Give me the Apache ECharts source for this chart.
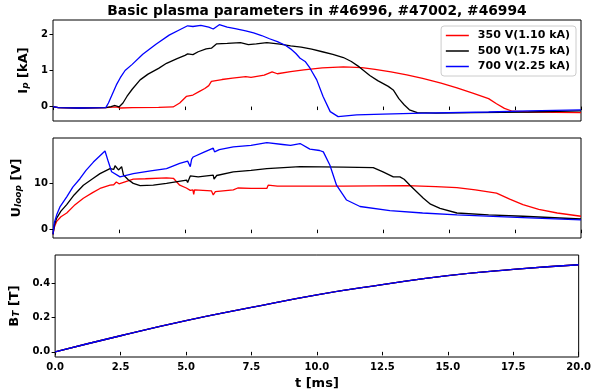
<!DOCTYPE html>
<html><head><meta charset="utf-8">
<script src="https://cdn.jsdelivr.net/npm/echarts@6/dist/echarts.min.js"></script>
<style>html,body{margin:0;padding:0;background:#fff}#c{width:594px;height:391px}</style>
</head><body><div id="c"></div>
<script>
// ---- data ----
const seriesNames = ['350 V(1.10 kA)', '500 V(1.75 kA)', '700 V(2.25 kA)'];
const seriesColors = ['#ff0000', '#000000', '#0000ff'];
const xTicks = [0, 2.5, 5, 7.5, 10, 12.5, 15, 17.5, 20];

// Ip [kA]
const ipRedT = [0,0.2,1.0,2.0,2.4,2.55,3.0,4.0,4.55,4.8,5.05,5.3,5.55,5.75,5.9,6.0,6.4,6.8,7.3,7.5,8.0,8.3,8.5,9.0,9.5,10.2,11.0,11.7,12.2,12.8,13.4,14.0,14.7,15.3,15.9,16.5,16.8,17.1,17.4,18,19,20];
const ipRedV = [0,-0.03,-0.04,-0.03,-0.01,-0.04,-0.03,-0.02,-0.01,0.1,0.28,0.32,0.42,0.5,0.58,0.7,0.75,0.79,0.83,0.81,0.87,0.96,0.91,0.97,1.02,1.07,1.1,1.08,1.03,0.96,0.88,0.78,0.65,0.52,0.37,0.22,0.08,-0.05,-0.13,-0.15,-0.16,-0.17];
const ipBlackT = [0,0.2,1,2,2.2,2.35,2.5,2.65,2.8,3.0,3.3,3.6,4.0,4.3,4.7,5.0,5.1,5.3,5.5,5.8,6.0,6.2,6.6,7.1,7.4,7.7,8.1,8.6,9.0,9.4,9.8,10.2,10.6,11.0,11.3,11.6,12.0,12.3,12.7,12.9,13.1,13.3,13.5,13.8,14.5,16,18,20];
const ipBlackV = [0,-0.03,-0.04,-0.03,0.0,0.03,-0.01,0.1,0.28,0.48,0.74,0.9,1.06,1.2,1.33,1.42,1.46,1.44,1.52,1.6,1.62,1.74,1.75,1.77,1.72,1.74,1.77,1.73,1.68,1.65,1.59,1.52,1.45,1.36,1.25,1.1,0.86,0.72,0.56,0.45,0.22,0.05,-0.09,-0.17,-0.18,-0.17,-0.15,-0.12];
const ipBlueT = [0,0.2,1,2.0,2.1,2.25,2.4,2.55,2.73,3.0,3.4,3.9,4.4,4.8,5.1,5.3,5.6,5.9,6.07,6.3,6.6,6.9,7.3,7.6,7.9,8.2,8.5,8.8,9.0,9.2,9.36,9.55,9.73,9.99,10.23,10.5,10.8,11.2,11.5,12.5,14,16.5,18,20];
const ipBlueV = [0,-0.03,-0.04,-0.03,0.1,0.35,0.6,0.8,1.0,1.17,1.45,1.73,1.98,2.13,2.24,2.22,2.25,2.2,2.15,2.27,2.2,2.16,2.1,2.04,1.97,1.88,1.8,1.7,1.6,1.47,1.34,1.25,1.07,0.74,0.28,-0.14,-0.28,-0.25,-0.23,-0.21,-0.18,-0.15,-0.12,-0.09];

// Uloop [V]
const uRedT = [0,0.05,0.14,0.3,0.52,0.8,1.15,1.5,1.78,2.16,2.3,2.4,2.5,3.04,3.5,4.3,4.56,4.8,5.05,5.2,5.3,5.33,5.36,6.0,6.07,6.15,6.83,7.0,7.5,8.1,8.15,8.5,9.36,11,13.4,14.5,15.3,16.0,16.8,17.3,17.8,18.4,19.1,20];
const uRedV = [-1,0.5,1.8,2.8,3.6,5.2,6.8,8.0,8.9,9.6,9.7,10.3,9.9,10.9,11.0,11.2,11.1,9.6,9.0,8.5,8.6,7.6,8.6,8.4,7.5,8.2,8.6,9.0,8.9,8.9,9.6,9.4,9.4,9.4,9.5,9.3,9.1,8.6,7.9,6.6,5.4,4.4,3.6,2.9];
const uBlackT = [0,0.05,0.14,0.3,0.52,0.8,1.15,1.5,1.78,2.16,2.3,2.35,2.48,2.6,2.67,2.85,3.04,3.3,3.8,4.3,5.06,5.1,5.2,5.5,6.07,6.1,6.2,6.83,7.5,8.1,9.36,11,12.13,12.5,12.89,13.14,13.3,13.52,14.03,14.3,14.66,15.3,16.5,17.8,20];
const uBlackV = [-1,1,2.5,4,5.4,7.5,9.6,11,12.1,13.2,13.0,13.8,12.9,13.6,11.8,10.8,10.0,9.5,9.6,10.0,10.7,10.2,11.6,11.4,11.8,10.9,11.7,12.5,12.8,13.2,13.6,13.5,13.4,12.5,11.4,11.4,10.9,9.6,6.8,5.5,4.6,3.6,3.2,2.9,2.3];
const uBlueT = [0,0.05,0.14,0.27,0.52,0.75,1.02,1.25,1.53,1.75,1.97,2.1,2.22,2.54,3.04,3.7,4.3,4.8,5.1,5.2,5.25,5.31,5.7,6.07,6.12,6.3,6.83,7.5,8.1,8.7,9.0,9.36,9.73,10.1,10.24,10.49,10.74,11.12,11.63,12.76,14,15.3,17.8,20];
const uBlueV = [-1,1.5,3.2,5,7.1,9.2,11,12.8,14.6,15.8,17,14.6,12.5,11.4,12.1,12.7,13.2,14.3,14.8,13.6,15.2,15.7,16.7,17.6,16.8,17.3,17.9,18.2,18.8,18.4,18.2,18.6,17.4,17.1,16.8,13.9,9.6,6.4,5.0,4.1,3.6,3.2,2.6,2.1];

// BT [T]
const btT = [0,2.5,5,7.5,10,12.5,15,17.5,20];
const btRedV = [0,0.094,0.182,0.259,0.333,0.392,0.445,0.481,0.508];
const btBlackV = [0,0.094,0.182,0.259,0.333,0.392,0.445,0.481,0.508];
const btBlueV = [0,0.094,0.182,0.259,0.333,0.392,0.445,0.481,0.508];

const ipTicks = [0, 1, 2];
const uTicks = [0, 10];
const btTicks = [0, 0.2, 0.4];

// ---- chart ----
const zip = (t, v) => t.map((x, i) => [x, v[i]]);
const FONT = 'DejaVu Sans';
const chart = echarts.init(document.getElementById('c'), null, {renderer: 'canvas'});

const grids = [
  {left: 53, right: 13, top: 20, height: 101},
  {left: 53, right: 13, top: 138, height: 100},
  {left: 53, right: 13, top: 255, height: 115}
].map(g => Object.assign(g, {show: true, borderColor: '#000', borderWidth: 1, backgroundColor: 'transparent'}));

function xAx(i, showLabel) {
  return {
    type: 'value', gridIndex: i, min: 0, max: 20,
    axisLine: {show: false},
    axisTick: {show: true, inside: false, length: 3.5, customValues: xTicks, lineStyle: {color: '#000'}},
    axisLabel: {show: showLabel, customValues: xTicks, color: '#000', fontFamily: FONT, fontWeight: 'bold', fontSize: 10,
      margin: 5, formatter: v => v.toFixed(1)},
    splitLine: {show: false},
    name: showLabel ? 't [ms]' : '', nameLocation: 'middle', nameGap: 20,
    nameTextStyle: {color: '#000', fontFamily: FONT, fontWeight: 'bold', fontSize: 13}
  };
}
const rich = {
  a: {fontFamily: FONT, fontWeight: 'bold', fontSize: 13, color: '#000'},
  b: {fontFamily: FONT, fontWeight: 'bold', fontStyle: 'italic', fontSize: 9, color: '#000', padding: [5, 0, 0, 0]}
};
function yAx(i, min, max, ticks, fmt, name, gap) {
  return {
    type: 'value', gridIndex: i, min: min, max: max,
    axisLine: {show: false},
    axisTick: {show: true, inside: false, length: 3.5, customValues: ticks, lineStyle: {color: '#000'}},
    axisLabel: {customValues: ticks, color: '#000', fontFamily: FONT, fontWeight: 'bold', fontSize: 10, margin: 5, formatter: fmt},
    splitLine: {show: false},
    name: name, nameLocation: 'middle', nameRotate: 90, nameGap: gap,
    nameTextStyle: {rich: rich}
  };
}
function line(name, color, xi, data, smooth) {
  return {name: name, type: 'line', xAxisIndex: xi, yAxisIndex: xi, data: data, symbol: 'none',
    smooth: !!smooth, lineStyle: {color: color, width: 1.3}, itemStyle: {color: color}, animation: false, z: 2};
}

const series = [
  line(seriesNames[0], seriesColors[0], 0, zip(ipRedT, ipRedV)),
  line(seriesNames[1], seriesColors[1], 0, zip(ipBlackT, ipBlackV)),
  line(seriesNames[2], seriesColors[2], 0, zip(ipBlueT, ipBlueV)),
  line(seriesNames[0], seriesColors[0], 1, zip(uRedT, uRedV)),
  line(seriesNames[1], seriesColors[1], 1, zip(uBlackT, uBlackV)),
  line(seriesNames[2], seriesColors[2], 1, zip(uBlueT, uBlueV)),
  line(seriesNames[0], seriesColors[0], 2, zip(btT, btRedV), true),
  line(seriesNames[1], seriesColors[1], 2, zip(btT, btBlackV), true),
  line(seriesNames[2], seriesColors[2], 2, zip(btT, btBlueV), true)
];

chart.setOption({
  backgroundColor: '#fff',
  animation: false,
  graphic: [{type: 'text', x: 317, y: 11, silent: true,
    style: {text: 'Basic plasma parameters in #46996, #47002, #46994', fill: '#000',
      font: 'bold 13.8px "DejaVu Sans"', textAlign: 'center', textVerticalAlign: 'middle'}}],
  legend: {data: seriesNames, orient: 'vertical', right: 18, top: 26, padding: [4, 6, 4, 4],
    backgroundColor: '#fff', borderColor: '#ccc', borderWidth: 1, borderRadius: 3,
    itemWidth: 23, itemHeight: 12, itemGap: 4.5,
    itemStyle: {opacity: 0},
    lineStyle: {width: 1.5},
    textStyle: {fontFamily: FONT, fontWeight: 'bold', fontSize: 11, color: '#000', padding: [0, 0, 0, 4]}},
  grid: grids,
  xAxis: [xAx(0, false), xAx(1, false), xAx(2, true)],
  yAxis: [
    yAx(0, -0.4, 2.4, ipTicks, v => String(v), '{a|I}{b|p}{a| [kA]}', 22),
    yAx(1, -1.8, 19.8, uTicks, v => String(v), '{a|U}{b|loop}{a| [V]}', 25),
    yAx(2, -0.03, 0.565, btTicks, v => v.toFixed(1), '{a|B}{b|T}{a| [T]}', 30)
  ],
  series: series
});
</script></body></html>
